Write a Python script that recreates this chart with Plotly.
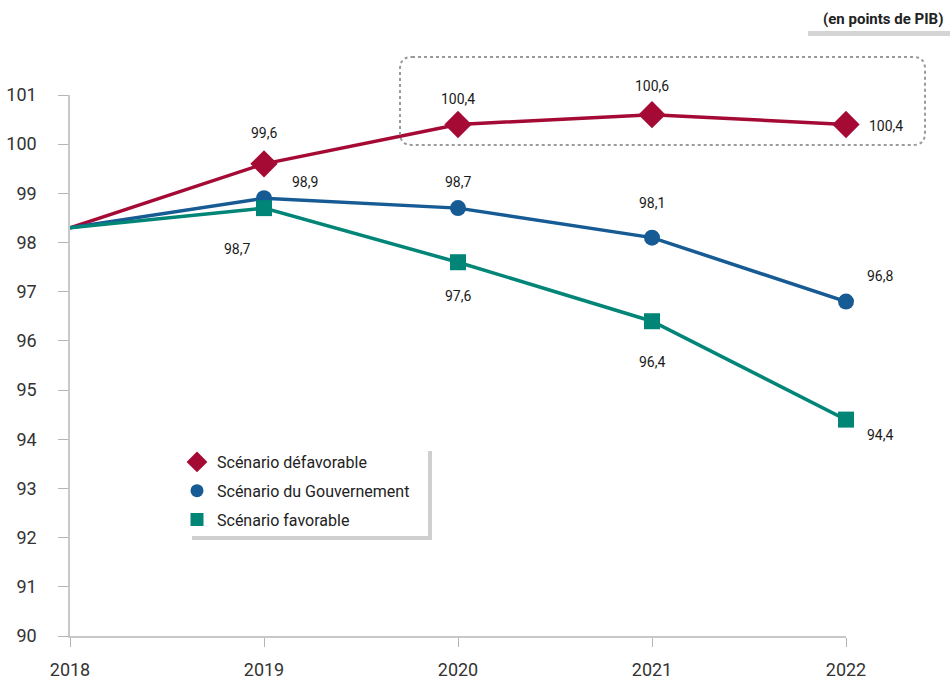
import plotly.graph_objects as go

# Dette publique selon trois scénarios (en points de PIB)
years = [2018, 2019, 2020, 2021, 2022]
defavorable = [98.3, 99.6, 100.4, 100.6, 100.4]
gouvernement = [98.3, 98.9, 98.7, 98.1, 96.8]
favorable = [98.3, 98.7, 97.6, 96.4, 94.4]
series_names = ["Scénario défavorable", "Scénario du Gouvernement", "Scénario favorable"]
y_ticks = list(range(90, 102))
x_ticks = years

RED = "#A50A35"
BLUE = "#175B94"
TEAL = "#008577"
FONT = "Roboto, Arial, sans-serif"

W, H = 950, 680
ML, MR, MT, MB = 70, 104, 95, 44
PW, PH = W - ML - MR, H - MT - MB


def px(xp):
    return (xp - ML) / PW


def py(yp):
    return (H - MB - yp) / PH


def fmt(v):
    return f"{v:.1f}".replace(".", ",")


series = [
    (defavorable, RED, "diamond", 21),
    (gouvernement, BLUE, "circle", 16),
    (favorable, TEAL, "square", 16),
]

# label offsets (xshift, yshift) in pixels, per point (skipping 2018)
offsets = [
    [(0, 31), (0, 26), (0, 29), (40, -1)],
    [(41, 16), (0, 26), (0, 35), (34, 26)],
    [(-27, -41), (0, -34), (0, -41), (34, -15)],
]

fig = go.Figure()

for (vals, color, sym, size), name in zip(series, series_names):
    fig.add_trace(go.Scatter(
        x=years, y=vals, mode="lines", showlegend=False,
        line=dict(color=color, width=3.5), hoverinfo="skip"))
    fig.add_trace(go.Scatter(
        x=years[1:], y=vals[1:], mode="markers", showlegend=False,
        marker=dict(symbol=sym, size=size, color=color), cliponaxis=False))
    fig.add_trace(go.Scatter(
        x=[None], y=[None], mode="markers", name=name, legendgroup=name,
        marker=dict(symbol=sym, size=size - 3, color=color)))

annotations = []
for (vals, _, _, _), offs in zip(series, offsets):
    for yr, v, (dx, dy) in zip(years[1:], vals[1:], offs):
        annotations.append(dict(
            x=yr, y=v, xref="x", yref="y", text=fmt(v), showarrow=False,
            xshift=dx, yshift=dy,
            font=dict(family=FONT, size=14, color="#1a1a1a")))

annotations.append(dict(
    x=px(945), y=py(19), xref="paper", yref="paper", xanchor="right",
    yanchor="middle", text="<b>(en points de PIB)</b>", showarrow=False,
    font=dict(family=FONT, size=15, color="#222")))

# rounded dotted frame around the unfavourable scenario peak
fx0, fx1, fy0, fy1, r = 400, 925, 57, 145, 12
X0, X1 = px(fx0), px(fx1)
Y0, Y1 = py(fy1), py(fy0)
rx, ry = r / PW, r / PH
frame = (f"M {X0+rx},{Y1} L {X1-rx},{Y1} Q {X1},{Y1} {X1},{Y1-ry} "
         f"L {X1},{Y0+ry} Q {X1},{Y0} {X1-rx},{Y0} L {X0+rx},{Y0} "
         f"Q {X0},{Y0} {X0},{Y0+ry} L {X0},{Y1-ry} Q {X0},{Y1} {X0+rx},{Y1} Z")

shapes = [
    dict(type="path", path=frame, xref="paper", yref="paper",
         line=dict(color="#9a9a9a", width=2, dash="dot")),
    # bar under the unit note
    dict(type="rect", xref="paper", yref="paper",
         x0=px(808), x1=px(950), y0=py(36), y1=py(31),
         fillcolor="#d4d4d4", line=dict(width=0)),
    # legend shadow and panel
    dict(type="rect", xref="paper", yref="paper",
         x0=px(192), x1=px(432), y0=py(540), y1=py(451),
         fillcolor="#cfcfcf", line=dict(width=0), layer="above"),
    dict(type="rect", xref="paper", yref="paper",
         x0=px(188), x1=px(428), y0=py(536), y1=py(447),
         fillcolor="white", line=dict(width=0), layer="above"),
]

fig.update_layout(
    width=W, height=H,
    margin=dict(l=ML, r=MR, t=MT, b=MB),
    paper_bgcolor="white", plot_bgcolor="white",
    annotations=annotations, shapes=shapes,
    legend=dict(
        x=px(177), y=py(445), xanchor="left", yanchor="top",
        bgcolor="rgba(0,0,0,0)", borderwidth=0, tracegroupgap=5,
        font=dict(family=FONT, size=16, color="#222"),
        itemwidth=30),
    xaxis=dict(
        range=[2018, 2022], tickvals=x_ticks, ticktext=[str(t) for t in x_ticks],
        showgrid=False, zeroline=False, showline=True, linecolor="#c8c8c8",
        linewidth=1.5, ticks="outside", ticklen=9, tickcolor="#b5b5b5",
        tickfont=dict(family=FONT, size=18, color="#333"), ticklabelstandoff=8,
        automargin=False),
    yaxis=dict(
        range=[90, 101], tickvals=y_ticks,
        showgrid=False, zeroline=False, showline=True, linecolor="#c8c8c8",
        linewidth=1.5, ticks="outside", ticklen=10, tickcolor="#b5b5b5",
        tickfont=dict(family=FONT, size=18, color="#333"), ticklabelstandoff=18,
        automargin=False),
)

fig.write_html("out.html")
